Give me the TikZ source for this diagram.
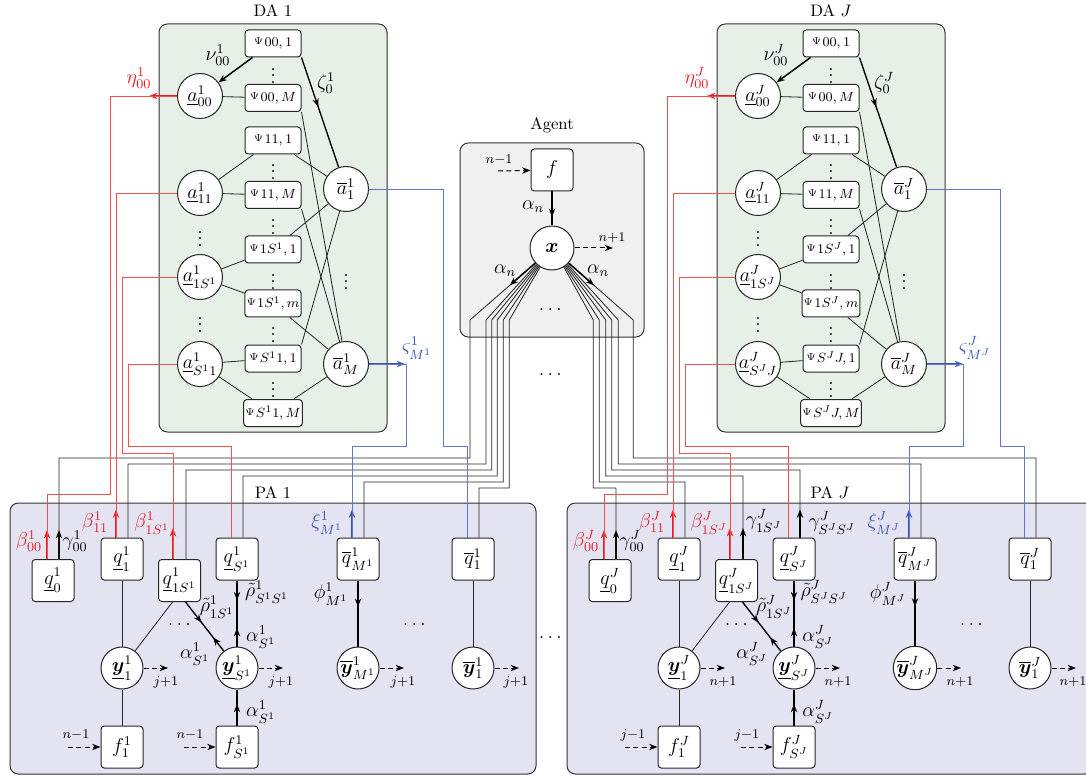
\documentclass[tikz,border=0pt]{standalone}
\usepackage{amsmath,bm}
\usepackage{fontspec}
\usetikzlibrary{arrows.meta,decorations.markings,calc}
\definecolor{dagreen}{RGB}{231,240,231}
\definecolor{pablue}{RGB}{228,227,242}
\definecolor{aggray}{RGB}{240,240,240}
\definecolor{myred}{RGB}{237,28,36}
\definecolor{myblue}{RGB}{57,83,180}
\definecolor{lnred}{RGB}{240,80,80}
\definecolor{lnblue}{RGB}{95,120,205}
\tikzset{
  >={Stealth[length=5pt,width=3.8pt]},
  lab/.style={font=\fontsize{12}{14}\selectfont, inner sep=0pt},
  ttl/.style={font=\fontsize{10}{12}\selectfont, inner sep=0pt},
  cont/.style={draw=black!80, rounded corners=5pt, line width=0.6pt},
  circ/.style={circle, draw=black!85, fill=white, minimum size=27pt, inner sep=0pt, line width=0.6pt, font=\fontsize{12}{14}\selectfont},
  sq/.style={rectangle, rounded corners=2pt, draw=black!85, fill=white, minimum width=25.2pt, minimum height=25.2pt, inner sep=0pt, line width=0.6pt, font=\fontsize{12}{14}\selectfont},
  psib/.style={rectangle, rounded corners=2pt, draw=black!85, fill=white, minimum width=33.6pt, minimum height=16.2pt, inner sep=1pt, line width=0.6pt},
  ln/.style={line width=0.5pt, draw=black!85},
  rln/.style={line width=0.5pt, draw=lnred},
  bln/.style={line width=0.5pt, draw=lnblue},
  arr/.style={line width=0.9pt, ->},
  dsh/.style={line width=0.6pt, dash pattern=on 3pt off 2pt, ->},
  mid/.style={postaction={decorate, decoration={markings, mark=at position #1 with {\arrow{>}}}}},
  midr/.style={postaction={decorate, decoration={markings, mark=at position #1 with {\arrowreversed{>}}}}},
}
\newcommand{\Psl}[1]{\raisebox{1.2pt}{\fontsize{6}{7}\selectfont$\Psi$}\kern0.8pt{\fontsize{8}{9}\selectfont$#1$}}
% #1 prefix, #2 shift, #3 sup, #4 S^sup, #5 title, #6 M^sup
\newcommand{\DAblock}[6]{%
\begin{scope}[shift={(#2,0)}]
\filldraw[cont, fill=dagreen] (159,24) rectangle (387,432);
\node[ttl] at (273,11) {#5};
\node[psib] (#1p00a) at (273,43.5) {\Psl{00,1}};
\node[psib] (#1p00b) at (273,98) {\Psl{00,M}};
\node[psib] (#1p11a) at (273,140.5) {\Psl{11,1}};
\node[psib] (#1p11b) at (273,195) {\Psl{11,M}};
\node[psib] (#1p1sa) at (273,249.5) {\Psl{1#4,1}};
\node[psib] (#1p1sb) at (273,303.5) {\Psl{1#4,m}};
\node[psib] (#1ps1a) at (273,358.5) {\Psl{#4#3,1}};
\node[psib] (#1ps1b) at (273,413) {\Psl{#4#3,M}};
\foreach \yy in {71,167,222,277,330,385} \node[lab] at (273,\yy) {$\vdots$};
\foreach \yy in {234,320} \node[lab] at (200,\yy) {$\vdots$};
\node[lab] at (346,277) {$\vdots$};
\node[circ] (#1a00) at (200,96) {$\underline{a}^{#3}_{00}$};
\node[circ] (#1a11) at (200,193) {$\underline{a}^{#3}_{11}$};
\node[circ] (#1a1s) at (200,277) {$\underline{a}^{#3}_{1#4}$};
\node[circ] (#1as1) at (200,364) {$\underline{a}^{#3}_{#4#3}$};
\node[circ] (#1ab1) at (346,189) {$\overline{a}^{#3}_{1}$};
\node[circ] (#1abM) at (346,364) {$\overline{a}^{#3}_{M}$};
\node[lab] at (218,55) {$\nu^{#3}_{00}$};
\draw[line width=0.8pt, mid=0.45] (#1p00a.south east) -- (#1ab1);
\node[lab] at (326,83) {$\zeta^{#3}_0$};
\draw[ln] (#1a00) -- (#1p00b);
\draw[ln] (#1p00b.south east) -- (#1abM);
\draw[ln] (#1a11) -- (#1p11a);
\draw[ln] (#1p11a) -- (#1ab1);
\draw[ln] (#1a11) -- (#1p11b);
\draw[ln] (#1p11b.south east) -- (#1abM);
\draw[ln] (#1a1s) -- (#1p1sa);
\draw[ln] (#1p1sa) -- (#1ab1);
\draw[ln] (#1a1s) -- (#1p1sb);
\draw[ln] (#1p1sb) -- (#1abM);
\draw[ln] (#1as1) -- (#1ps1a);
\draw[ln] (#1ps1a.north east) -- (#1ab1);
\draw[ln] (#1as1) -- (#1ps1b);
\draw[ln] (#1ps1b) -- (#1abM);
\draw[arr, myred] (#1a00.west) -- ++(-28,0);
\node[lab, text=myred] at (139,78) {$\eta^{#3}_{00}$};
\draw[arr, myblue] (#1abM.east) -- ++(36,0);
\node[lab, text=myblue] at (417,348) {$\varsigma^{#3}_{#6}$};
\end{scope}}
\newcommand{\DAlinks}[1]{%
\draw[arr] ($(#1p00a.south west)+(8,0)$) -- (#1a00);}
% #1 prefix, #2 shift, #3 sup, #4 S^sup, #5 title, #6 in-label, #7 out-label, #8 M^sup
\newcommand{\PAblock}[8]{%
\begin{scope}[shift={(#2,0)}]
\filldraw[cont, fill=pablue] (10,503) rectangle (536,774);
\node[ttl] at (273,493) {#5};
\node[sq] (#1q0) at (53,580.5) {$\underline{q}^{#3}_0$};
\node[sq] (#1q1) at (122,559) {$\underline{q}^{#3}_1$};
\node[sq] (#1q1s) at (179.5,580.5) {$\underline{q}^{#3}_{1#4}$};
\node[sq] (#1qs) at (237,559) {$\underline{q}^{#3}_{#4}$};
\node[sq] (#1qm) at (358,559) {$\overline{q}^{#3}_{#8}$};
\node[sq] (#1qb) at (473,559) {$\overline{q}^{#3}_1$};
\node[circ, minimum size=25.2pt] (#1y1) at (122,668) {$\underline{\bm{y}}^{#3}_1$};
\node[circ, minimum size=25.2pt] (#1ys) at (237,668) {$\underline{\bm{y}}^{#3}_{#4}$};
\node[circ, minimum size=25.2pt] (#1ym) at (358,668) {$\overline{\bm{y}}^{#3}_{#8}$};
\node[circ, minimum size=25.2pt] (#1yb) at (473,668) {$\overline{\bm{y}}^{#3}_1$};
\node[sq] (#1f1) at (122,747) {$f^{#3}_1$};
\node[sq] (#1fs) at (237,747) {$f^{#3}_{#4}$};
\draw[ln] (#1q1) -- (#1y1);
\draw[ln] (#1y1) -- (#1f1);
\draw[line width=0.8pt, mid=0.3, midr=0.72] (#1qs) -- (#1ys);
\draw[line width=0.8pt, mid=0.6] (#1fs) -- (#1ys);
\draw[line width=0.8pt, mid=0.4] (#1qm) -- (#1ym);
\draw[ln] (#1qb) -- (#1yb);
\draw[dsh] (68,747) -- (#1f1);
\draw[dsh] (184,747) -- (#1fs);
\node[lab] at (76,735) {$\scriptstyle #6$};
\node[lab] at (190,735) {$\scriptstyle #6$};
\draw[dsh] (#1y1) -- (168,668);
\draw[dsh] (#1ys) -- (283,668);
\draw[dsh] (#1ym) -- (404,668);
\draw[dsh] (#1yb) -- (519,668);
\node[lab] at (166,682) {$\scriptstyle #7$};
\node[lab] at (281,682) {$\scriptstyle #7$};
\node[lab] at (403,682) {$\scriptstyle #7$};
\node[lab] at (516,682) {$\scriptstyle #7$};
\node[lab] at (181,625) {$\dots$};
\node[lab] at (416,625) {$\dots$};
\node[lab] at (217,607) {$\tilde\rho^{#3}_{1#4}$};
\node[lab] at (195,654) {$\alpha^{#3}_{#4}$};
\node[lab] at (267,592) {$\tilde\rho^{#3}_{#4#4}$};
\node[lab] at (261,637) {$\alpha^{#3}_{#4}$};
\node[lab] at (261,712) {$\alpha^{#3}_{#4}$};
\node[lab] at (331,594) {$\phi^{#3}_{#8}$};
\node[lab, text=myred] at (29,541) {$\beta^{#3}_{00}$};
\node[lab] at (75,541) {$\gamma^{#3}_{00}$};
\node[lab, text=myred] at (95,522) {$\beta^{#3}_{11}$};
\node[lab, text=myred] at (152,523) {$\beta^{#3}_{1#4}$};
\node[lab, text=myblue] at (327,523) {$\xi^{#3}_{#8}$};
\end{scope}}
\newcommand{\PAlinks}[1]{%
\draw[ln] ($(#1q1s.south)+(-7,0)$) -- (#1y1);
\draw[line width=0.8pt, mid=0.42, midr=0.72] ($(#1q1s.south)+(6,0)$) -- (#1ys);
\draw[arr, myred] ($(#1q0.north)+(-6,0)$) -- ++(0,-29);
\draw[arr] ($(#1q0.north)+(6,0)$) -- ++(0,-29);
\draw[arr, myred] ($(#1q1.north)+(-6,0)$) -- ++(0,-28);
\draw[arr, myred] ($(#1q1s.north)+(-6.5,0)$) -- ++(0,-31);
\draw[arr, myblue] ($(#1qm.north)+(-6,0)$) -- ++(0,-28);}
\begin{document}
\begin{tikzpicture}[x=0.6pt,y=-0.6pt]
\useasboundingbox (0,0) rectangle (1086,777);
\DAblock{A}{0}{1}{S^1}{DA 1}{M^1}
\DAblock{B}{558}{J}{S^J}{DA $J$}{M^J}
\PAblock{C}{0}{1}{S^1}{PA 1}{n-1}{j+1}{M^1}
\PAblock{D}{557}{J}{S^J}{PA $J$}{j-1}{n+1}{M^J}
\DAlinks{A}
\DAlinks{B}
\PAlinks{C}
\PAlinks{D}
% Agent
\filldraw[cont, fill=aggray] (460,143) rectangle (644,337);
\node[ttl] at (552,125) {Agent};
\node[sq] (f) at (552,170) {$f$};
\node[circ, minimum size=26.4pt] (x) at (552,248) {$\bm{x}$};
\draw[line width=0.8pt, mid=0.75] (f) -- (x);
\node[lab] at (533,207) {$\alpha_n$};
\draw[dsh] (498,171) -- (f);
\node[lab] at (499,160) {$\scriptstyle n-1$};
\draw[dsh] (x) -- (613,248);
\node[lab] at (612,238) {$\scriptstyle n+1$};
\node[lab] at (552,310) {$\dots$};
\node[lab] at (505,271) {$\alpha_n$};
\node[lab] at (598,271) {$\alpha_n$};
\node[lab] at (552,375) {$\dots$};
\node[lab] at (552,638) {$\dots$};
% agent to PA 1
\draw[ln] (x.222) -- (470,320) -- (470,458) -| ($(Cq0.north)+(6,0)$);
\draw[ln] (x.226) -- (486,320) -- (486,464) -| ($(Cq1.north)+(6,0)$);
\draw[ln] (x.229) -- (491.7,320) -- (491.7,470) -| ($(Cq1s.north)+(6.5,0)$);
\draw[ln] (x.232) -- (497.3,320) -- (497.3,476) -| ($(Cqs.north)+(6,0)$);
\draw[ln] (x.235) -- (503.3,320) -- (503.3,482) -| ($(Cqm.north)+(6,0)$);
\draw[ln] (x.238) -- (509.3,320) -- (509.3,488) -| ($(Cqb.north)+(6,0)$);
\draw[arr] (x.222) -- ($(x.222)!0.39!(470,320)$);
% agent to PA J
\draw[ln] (x.302) -- (593.3,320) -- (593.3,488) -| ($(Dq0.north)+(6,0)$);
\draw[ln] (x.305) -- (599.3,320) -- (599.3,482) -| ($(Dq1.north)+(6,0)$);
\draw[ln] (x.308) -- (605.7,320) -- (605.7,476) -| ($(Dq1s.north)+(6.5,0)$);
\draw[ln] (x.311) -- (611.7,320) -- (611.7,470) -| ($(Dqs.north)+(6,0)$);
\draw[ln] (x.314) -- (618.3,320) -- (618.3,464) -| ($(Dqm.north)+(6,0)$);
\draw[ln] (x.318) -- (633.3,320) -- (633.3,458) -| ($(Dqb.north)+(6,0)$);
\draw[arr] (x.318) -- ($(x.318)!0.39!(633.3,320)$);
\draw[arr] ($(Dq1s.north)+(6.5,0)$) -- ++(0,-31);
\draw[arr] ($(Dqs.north)+(6,0)$) -- ++(0,-28);
\node[lab] at (764,521) {$\gamma^J_{1S^J}$};
\node[lab] at (832,523) {$\gamma^J_{S^JS^J}$};
% red links
\draw[rln] (Aa00.west) -| (110,494) -| ($(Cq0.north)+(-6,0)$);
\draw[rln] (Aa11.west) -| ($(Cq1.north)+(-6,0)$);
\draw[rln] (Aa1s.west) -| (122,453) -| ($(Cq1s.north)+(-6.5,0)$);
\draw[rln] (Aas1.west) -| (128,446) -| ($(Cqs.north)+(-6,0)$);
\draw[rln] (Ba00.west) -| (667,494) -| ($(Dq0.north)+(-6,0)$);
\draw[rln] (Ba11.west) -| ($(Dq1.north)+(-6,0)$);
\draw[rln] (Ba1s.west) -| (679,453) -| ($(Dq1s.north)+(-6.5,0)$);
\draw[rln] (Bas1.west) -| (685,446) -| ($(Dqs.north)+(-6,0)$);
% blue links
\draw[bln] (Aab1.east) -| (443,446) -| ($(Cqb.north)+(-6,0)$);
\draw[bln] (AabM.east) -| (406,446) -| ($(Cqm.north)+(-6,0)$);
\draw[bln] (Bab1.east) -| (1000,446) -| ($(Dqb.north)+(-6,0)$);
\draw[bln] (BabM.east) -| (963,446) -| ($(Dqm.north)+(-6,0)$);
\end{tikzpicture}
\end{document}
